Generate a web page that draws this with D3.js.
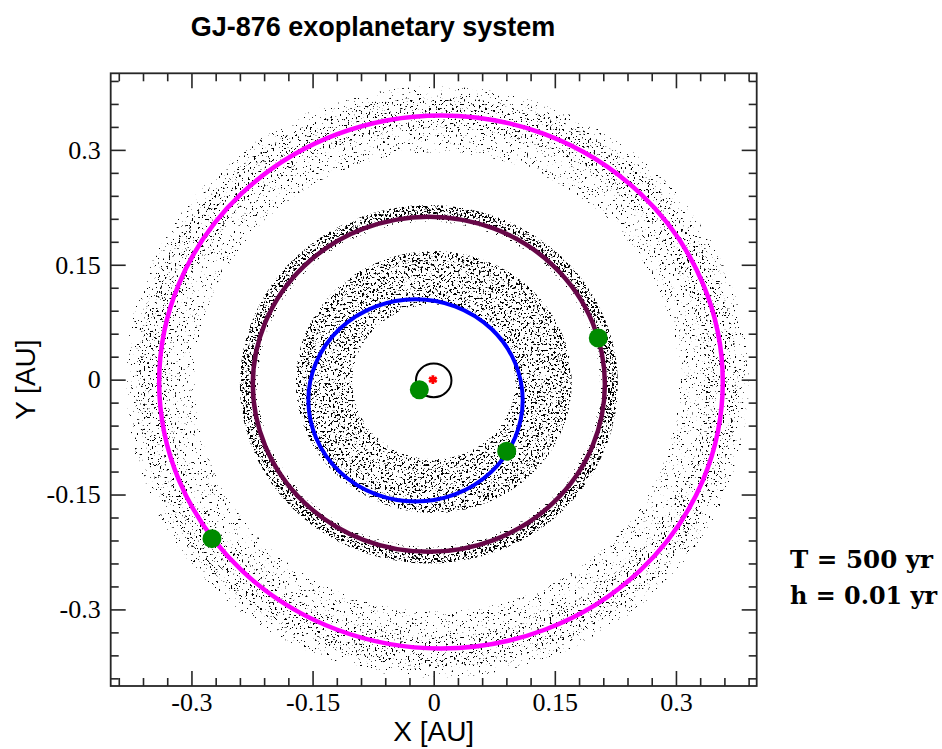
<!DOCTYPE html>
<html>
<head>
<meta charset="utf-8">
<script src="https://cdn.jsdelivr.net/npm/d3@7"></script>
<style>
  html, body { margin: 0; padding: 0; background: #ffffff; }
  svg { display: block; }
</style>
</head>
<body>
<svg id="chart" width="942" height="749"></svg>
<script>
// GJ-876: planetary orbits and test-particle rings after a 500 yr integration

// ---- axis ticks ----
const xMajorTicks = [-0.3, -0.15, 0, 0.15, 0.3];
const xTickLabels = ["-0.3", "-0.15", "0", "0.15", "0.3"];
const yMajorTicks = [-0.3, -0.15, 0, 0.15, 0.3];
const yTickLabels = ["-0.3", "-0.15", "0", "0.15", "0.3"];
const minorStep = 0.03;

// ---- planetary orbits: centre and semi-axes [AU] ----
const orbitNames = ["d", "c", "b", "e"];
const orbitCx = [0.000, -0.0225, -0.006, 0.009];
const orbitCy = [-0.001, -0.027, -0.006, -0.003];
const orbitRx = [0.022, 0.1327, 0.218, 0.349];
const orbitRy = [0.022, 0.1321, 0.2187, 0.348];

// ---- planet positions at T = 500 yr [AU] ----
const planetNames = ["d", "c", "b", "e"];
const planetX = [-0.0178, 0.0904, 0.2038, -0.2746];
const planetY = [-0.0131, -0.0936, 0.0544, -0.2076];

// ---- central star ----
const starX = [-0.001];
const starY = [0.000];

// ---- test-particle rings: centre, inner/outer radius [AU], areal density ----
const ringCx = [0.000, 0.000, -0.006, -0.006, 0.004, 0.004, 0.004];
const ringCy = [-0.003, -0.003, -0.006, -0.006, -0.003, -0.003, -0.003];
const ringInner = [0.101, 0.158, 0.212, 0.219, 0.300, 0.333, 0.372];
const ringOuter = [0.158, 0.171, 0.219, 0.234, 0.333, 0.372, 0.386];
const ringDensity = [0.25, 0.33, 0.10, 0.42, 0.05, 0.13, 0.04];

// ---- styles ----
const orbitStyle = {
  d: { color: "#000000", width: 2 },
  c: { color: "#0000ff", width: 4 },
  b: { color: "#670748", width: 4.5 },
  e: { color: "#ff00ff", width: 4.5 }
};
const planetColor = "#008b00";
const frameColor = "#262626";
const serif = "'Liberation Serif', 'Times New Roman', serif";
const sans = "'Liberation Sans', Arial, Helvetica, sans-serif";

const svg = d3.select("#chart");
const plot = { left: 110.7, right: 756.7, top: 73.3, bottom: 686 };

const x = d3.scaleLinear().domain([-0.4, 0.4]).range([plot.left, plot.right]);
const y = d3.scaleLinear().domain([-0.4, 0.4]).range([plot.bottom, plot.top]);

// ---- stipple filters for the particle rings ----
const defs = svg.append("defs");
const threshold = d3.scaleLinear()
  .domain([0.02, 0.05, 0.12, 0.25, 0.45])
  .range([0.72, 0.68, 0.635, 0.585, 0.525])
  .clamp(true);
const slope = 18;

ringDensity.forEach((dens, i) => {
  const f = defs.append("filter")
    .attr("id", "stipple" + i)
    .attr("x", -0.05).attr("y", -0.05)
    .attr("width", 1.1).attr("height", 1.1)
    .attr("color-interpolation-filters", "sRGB");
  f.append("feTurbulence")
    .attr("type", "fractalNoise")
    .attr("baseFrequency", 0.48)
    .attr("numOctaves", 2)
    .attr("seed", 5 + i * 17)
    .attr("result", "noise");
  f.append("feColorMatrix")
    .attr("in", "noise")
    .attr("type", "matrix")
    .attr("values", "0 0 0 0 0  0 0 0 0 0  0 0 0 0 0  1 0 0 0 0")
    .attr("result", "noiseAlpha");
  f.append("feComponentTransfer")
    .attr("in", "noiseAlpha")
    .attr("result", "dots")
    .append("feFuncA")
    .attr("type", "linear")
    .attr("slope", slope)
    .attr("intercept", -slope * threshold(dens));
  f.append("feComposite")
    .attr("in", "dots")
    .attr("in2", "SourceGraphic")
    .attr("operator", "in");
});

// ellipse outline in pixel space, from a centre and semi-axes in AU
function ellipsePath(cx, cy, rx, ry) {
  const px = x(cx), py = y(cy);
  const rpx = x(cx + rx) - px, rpy = py - y(cy + ry);
  return `M${px - rpx},${py}A${rpx},${rpy} 0 1 0 ${px + rpx},${py}` +
         `A${rpx},${rpy} 0 1 0 ${px - rpx},${py}Z`;
}

// ---- particle rings ----
const ringLayer = svg.append("g").attr("class", "rings");
ringDensity.forEach((dens, i) => {
  ringLayer.append("path")
    .attr("d", ellipsePath(ringCx[i], ringCy[i], ringOuter[i], ringOuter[i]) +
               ellipsePath(ringCx[i], ringCy[i], ringInner[i], ringInner[i]))
    .attr("fill", "#000")
    .attr("fill-rule", "evenodd")
    .attr("filter", `url(#stipple${i})`);
});

// ---- orbits ----
const orbitLayer = svg.append("g").attr("class", "orbits");
orbitNames.forEach((name, i) => {
  orbitLayer.append("path")
    .attr("d", ellipsePath(orbitCx[i], orbitCy[i], orbitRx[i], orbitRy[i]))
    .attr("fill", "none")
    .attr("stroke", orbitStyle[name].color)
    .attr("stroke-width", orbitStyle[name].width);
});

// ---- star ----
svg.append("g").selectAll("path")
  .data(starX)
  .join("path")
  .attr("transform", (d, i) => `translate(${x(d)},${y(starY[i])})`)
  .attr("d", d3.symbol(d3.symbolAsterisk, 55))
  .attr("fill", "none")
  .attr("stroke", "#ff0000")
  .attr("stroke-width", 2.8);

// ---- planets ----
svg.append("g").selectAll("circle")
  .data(planetNames)
  .join("circle")
  .attr("cx", (d, i) => x(planetX[i]))
  .attr("cy", (d, i) => y(planetY[i]))
  .attr("r", 9.5)
  .attr("fill", planetColor);

// ---- frame and axes (ticks point inward on all four sides) ----
const minorTicks = d3.range(-13, 14).map(k => +(k * minorStep).toFixed(2))
  .filter(v => !xMajorTicks.some(m => Math.abs(m - v) < 1e-9));

function styleAxis(g) {
  g.attr("font-family", serif).attr("font-size", 26);
  g.select(".domain").remove();
  g.selectAll("line").attr("stroke", frameColor).attr("stroke-width", 1.6);
  g.selectAll("text").attr("fill", "#000");
}

svg.append("g")
  .attr("transform", `translate(0,${plot.bottom})`)
  .call(d3.axisBottom(x).tickValues(xMajorTicks).tickSize(-15).tickPadding(7)
        .tickFormat((d, i) => xTickLabels[i]))
  .call(styleAxis);
svg.append("g")
  .attr("transform", `translate(0,${plot.bottom})`)
  .call(d3.axisBottom(x).tickValues(minorTicks).tickSize(-8).tickFormat(""))
  .call(styleAxis);
svg.append("g")
  .attr("transform", `translate(0,${plot.top})`)
  .call(d3.axisTop(x).tickValues(xMajorTicks).tickSize(-15).tickFormat(""))
  .call(styleAxis);
svg.append("g")
  .attr("transform", `translate(0,${plot.top})`)
  .call(d3.axisTop(x).tickValues(minorTicks).tickSize(-8).tickFormat(""))
  .call(styleAxis);

svg.append("g")
  .attr("transform", `translate(${plot.left},0)`)
  .call(d3.axisLeft(y).tickValues(yMajorTicks).tickSize(-15).tickPadding(10)
        .tickFormat((d, i) => yTickLabels[i]))
  .call(styleAxis);
svg.append("g")
  .attr("transform", `translate(${plot.left},0)`)
  .call(d3.axisLeft(y).tickValues(minorTicks).tickSize(-8).tickFormat(""))
  .call(styleAxis);
svg.append("g")
  .attr("transform", `translate(${plot.right},0)`)
  .call(d3.axisRight(y).tickValues(yMajorTicks).tickSize(-15).tickFormat(""))
  .call(styleAxis);
svg.append("g")
  .attr("transform", `translate(${plot.right},0)`)
  .call(d3.axisRight(y).tickValues(minorTicks).tickSize(-8).tickFormat(""))
  .call(styleAxis);

svg.append("rect")
  .attr("x", plot.left).attr("y", plot.top)
  .attr("width", plot.right - plot.left)
  .attr("height", plot.bottom - plot.top)
  .attr("fill", "none")
  .attr("stroke", frameColor)
  .attr("stroke-width", 1.8);

// ---- titles ----
svg.append("text")
  .attr("x", 373).attr("y", 36)
  .attr("text-anchor", "middle")
  .attr("font-family", sans).attr("font-weight", "bold").attr("font-size", 27)
  .text("GJ-876 exoplanetary system");

svg.append("text")
  .attr("x", x(0)).attr("y", 741)
  .attr("text-anchor", "middle")
  .attr("font-family", sans).attr("font-size", 28)
  .text("X [AU]");

svg.append("text")
  .attr("transform", `translate(35,${y(0)}) rotate(-90)`)
  .attr("text-anchor", "middle")
  .attr("font-family", sans).attr("font-size", 28)
  .text("Y [AU]");

const note = svg.append("g")
  .attr("font-family", "'DejaVu Serif', serif")
  .attr("font-weight", "bold")
  .attr("font-size", 24);
note.append("text").attr("x", 790).attr("y", 568)
  .attr("textLength", 143).attr("lengthAdjust", "spacingAndGlyphs")
  .text("T = 500 yr");
note.append("text").attr("x", 790).attr("y", 604)
  .attr("textLength", 147).attr("lengthAdjust", "spacingAndGlyphs")
  .text("h = 0.01 yr");
</script>
</body>
</html>
